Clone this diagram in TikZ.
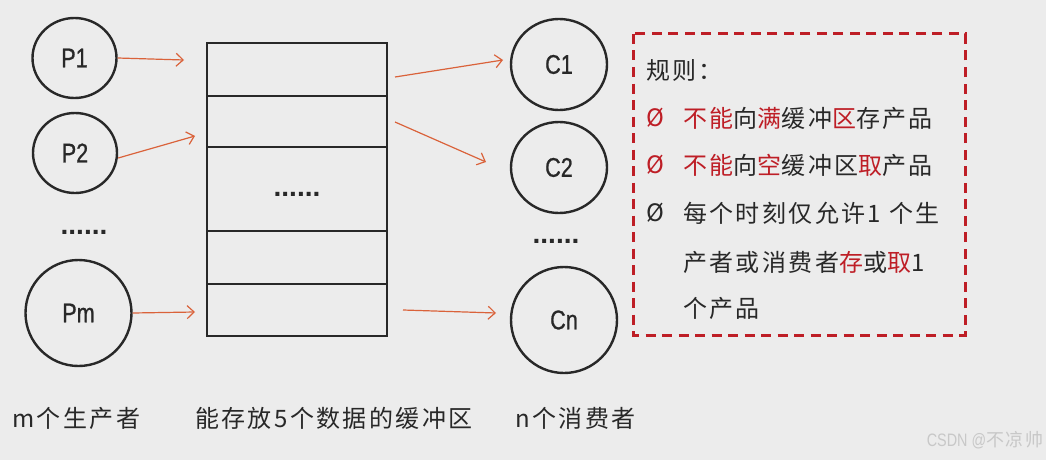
\documentclass[tikz,border=0pt]{standalone}
\usepackage{fontspec}
\usetikzlibrary{arrows.meta,shapes.geometric}
\newfontfamily\cjk[LetterSpace=10]{Noto Sans CJK SC}
\newfontfamily\narrow[FakeStretch=0.8]{Liberation Sans}
\newfontfamily\narrowb[FakeStretch=0.8,FakeBold=0.8]{Liberation Sans}
\newfontfamily\dotfont{Liberation Sans}
\definecolor{bg}{RGB}{236,236,236}
\definecolor{ink}{RGB}{40,40,40}
\definecolor{arr}{RGB}{218,98,58}
\definecolor{rulered}{RGB}{190,30,38}
\definecolor{wm}{RGB}{200,200,200}
\newcommand{\R}[1]{\textcolor{rulered}{#1}}
\tikzset{
  proc/.style={ellipse, draw=ink, line width=2.4pt, inner sep=0pt, text=ink, font=\narrowb\fontsize{27}{27}\selectfont},
  cell/.style={rectangle, draw=ink, line width=1.5pt, minimum width=180pt, inner sep=0pt, outer sep=0pt},
  flow/.style={draw=arr, line width=1.2pt, -{Straight Barb[length=7pt,width=13pt,line width=1.2pt]}},
  dots/.style={text=ink, inner sep=0pt, font=\dotfont\bfseries\fontsize{28}{28}\selectfont},
  ruletxt/.style={anchor=west, inner sep=0pt, text=ink, font=\cjk\fontsize{24}{24}\selectfont},
  lbl/.style={anchor=west, inner sep=0pt, text=ink, font=\cjk\fontsize{24}{24}\selectfont},
  rulebox/.style={draw=rulered, line width=3pt, dash pattern=on 10pt off 6.5pt}
}
\begin{document}
\begin{tikzpicture}[x=1pt,y=-1pt]
\fill[bg] (0,0) rectangle (1046,460);
\useasboundingbox (0,0) rectangle (1046,460);

% producers
\node[proc, minimum width=84pt, minimum height=80pt] (P1) at (74.5,58) {P1};
\node[proc, minimum width=84pt, minimum height=80pt] (P2) at (75,153) {P2};
\node[proc, minimum width=106pt, minimum height=106pt] (Pm) at (78.5,313) {Pm};
\node[dots] (pd) at (84,232) {......};

% buffer
\node[cell, minimum height=53pt, anchor=north west] (b1) at (207,43) {};
\node[cell, minimum height=51pt, anchor=north] (b2) at (b1.south) {};
\node[cell, minimum height=84pt, anchor=north] (b3) at (b2.south) {};
\node[cell, minimum height=53pt, anchor=north] (b4) at (b3.south) {};
\node[cell, minimum height=52pt, anchor=north] (b5) at (b4.south) {};
\node[dots] (bd) at (b3.center) [yshift=-5pt] {......};

% consumers
\node[proc, minimum width=96pt, minimum height=91pt] (C1) at (559,64.5) {C1};
\node[proc, minimum width=96pt, minimum height=91pt] (C2) at (559,167.5) {C2};
\node[proc, minimum width=106pt, minimum height=106pt] (Cn) at (564,320) {Cn};
\node[dots] (cd) at (556,241) {......};

% arrow end points
\coordinate (e1) at (184,60);
\coordinate (e2) at (195,136);
\coordinate (em) at (195,312);
\coordinate (s1) at (395,77);
\coordinate (s2) at (395,122);
\coordinate (sn) at (403,310);
\coordinate (f1) at (503,60);
\coordinate (f2) at (486,162);
\coordinate (fn) at (496,313);

\draw[flow] (P1.east) -- (e1);
\draw[flow] ([yshift=-5pt]P2.east) -- (e2);
\draw[flow] (Pm.east) -- (em);
\draw[flow] (s1) -- (f1);
\draw[flow] (s2) -- (f2);
\draw[flow] (sn) -- (fn);

% rules box
\draw[rulebox] (633,34) rectangle (965,335);
\node[ruletxt] (r0) at (646,70) {规则：};
\node[ruletxt, text=rulered] (u1) at (646,118) {Ø};
\node[ruletxt] (t1) at (683,118) {\R{不能}向\R{满}缓冲\R{区}存产品};
\node[ruletxt, text=rulered] (u2) at (646,165) {Ø};
\node[ruletxt] (t2) at (683,165) {\R{不能}向\R{空}缓冲区\R{取}产品};
\node[ruletxt] (u3) at (646,213) {Ø};
\node[ruletxt] (t3) at (683,213) {每个时刻仅允许1 个生};
\node[ruletxt] (t4) at (683,262) {产者或消费者\R{存}或\R{取}1};
\node[ruletxt] (t5) at (683,308) {个产品};

% bottom labels
\node[lbl] (lm) at (12,418) {m个生产者};
\node[lbl] (lb) at (195,418) {能存放5个数据的缓冲区};
\node[lbl] (ln) at (515,418) {n个消费者};
\node[anchor=east, inner sep=0pt, text=wm, font=\narrow\fontsize{18}{18}\selectfont] (wmk) at (1044,440) {CSDN @{\cjk 不凉帅}};
\end{tikzpicture}
\end{document}
